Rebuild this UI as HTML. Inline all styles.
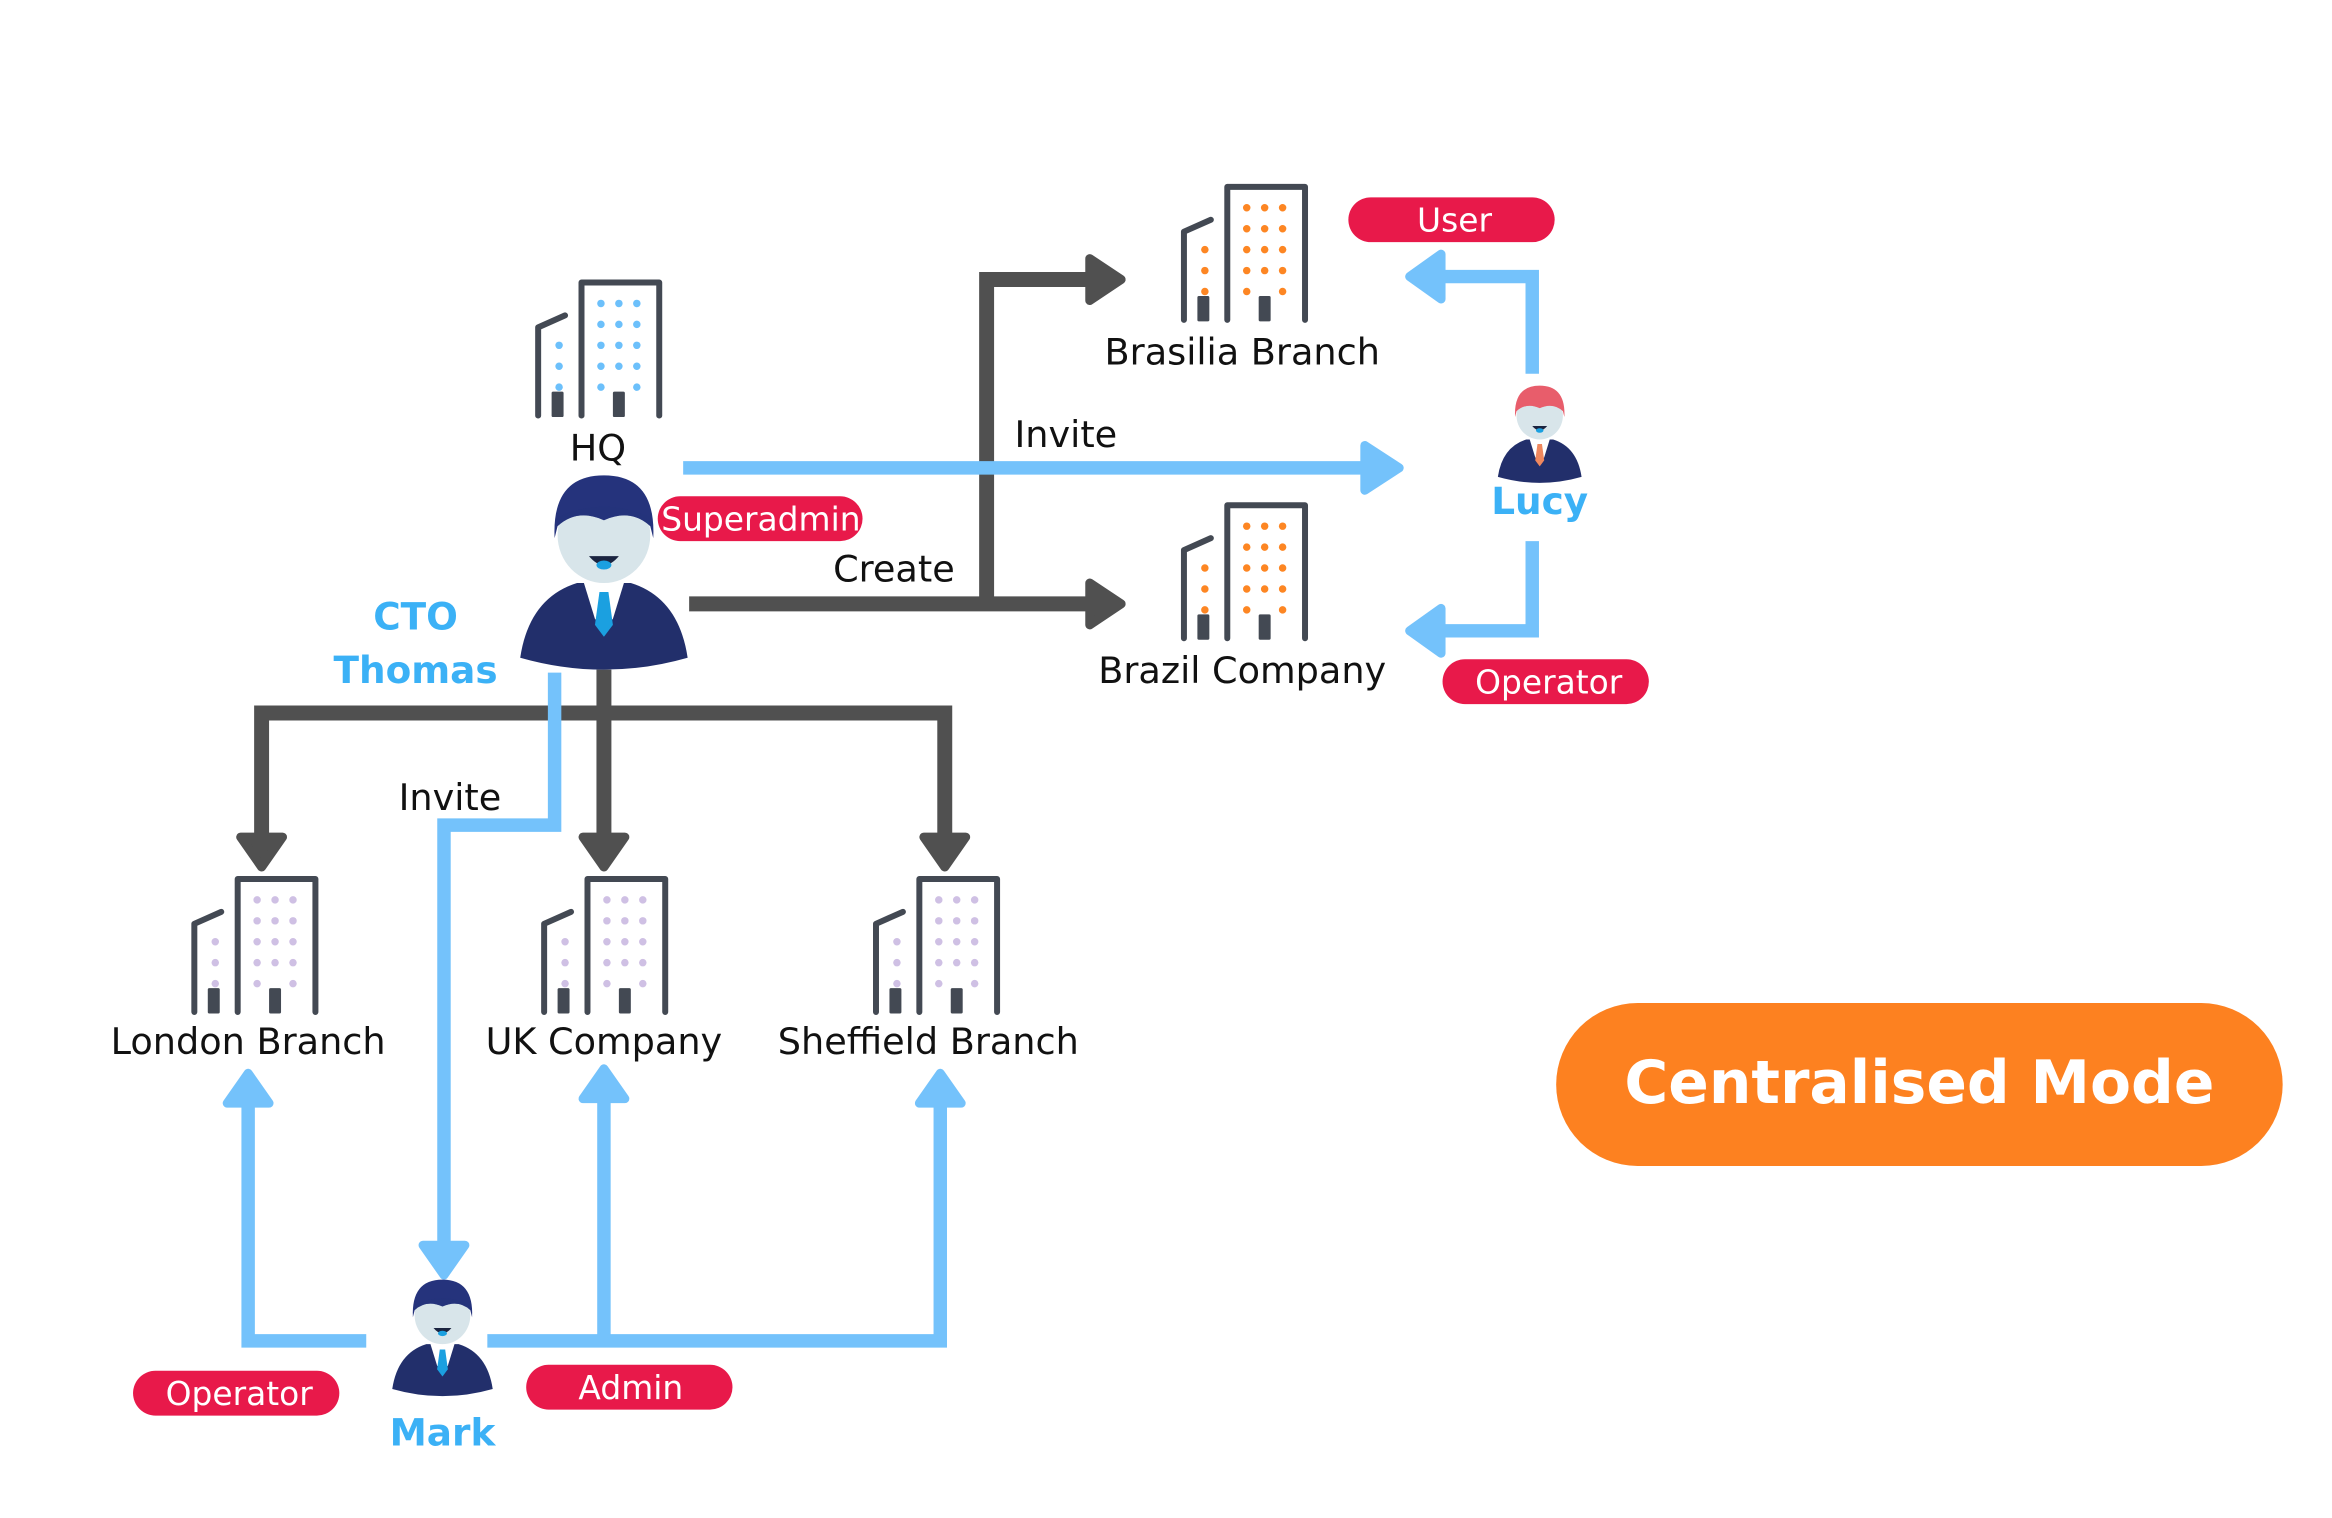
<!DOCTYPE html>
<html><head><meta charset="utf-8"><style>
html,body{margin:0;padding:0;background:#fff}
svg{display:block}
text{font-family:"DejaVu Sans","Liberation Sans",sans-serif}
</style></head><body>
<svg width="2332" height="1518" viewBox="0 0 1560 1015.5" preserveAspectRatio="none" xmlns="http://www.w3.org/2000/svg">
<defs>
<g id="bld">
 <path d="M3,92 V33 L21,25" fill="none" stroke="#434953" stroke-width="4" stroke-linecap="round" stroke-linejoin="round"/>
 <path d="M32,92 V3 H84 V92" fill="none" stroke="#434953" stroke-width="4" stroke-linecap="round" stroke-linejoin="round"/>
 <rect x="12" y="76" width="8" height="17" rx="1" fill="#434953"/>
 <rect x="53" y="76" width="8" height="17" rx="1" fill="#434953"/>
 <g fill="currentColor">
  <circle cx="45" cy="17" r="2.5"/><circle cx="57" cy="17" r="2.5"/><circle cx="69" cy="17" r="2.5"/>
  <circle cx="45" cy="31" r="2.5"/><circle cx="57" cy="31" r="2.5"/><circle cx="69" cy="31" r="2.5"/>
  <circle cx="45" cy="45" r="2.5"/><circle cx="57" cy="45" r="2.5"/><circle cx="69" cy="45" r="2.5"/>
  <circle cx="45" cy="59" r="2.5"/><circle cx="57" cy="59" r="2.5"/><circle cx="69" cy="59" r="2.5"/>
  <circle cx="45" cy="73" r="2.5"/><circle cx="69" cy="73" r="2.5"/>
  <circle cx="17" cy="45" r="2.5"/><circle cx="17" cy="59" r="2.5"/><circle cx="17" cy="73" r="2.5"/>
 </g>
</g>
<g id="man">
 <path d="M-56,122 Q-50,82 -18,72 L18,72 Q50,82 56,122 Q0,138 -56,122 Z" fill="#222f6b"/>
 <rect x="-11" y="56" width="22" height="18" fill="#c4d4dc"/>
 <polygon points="-14,70 14,70 6,96 0,102 -6,96" fill="#fff"/>
 <polygon points="-3,78 3,78 6,100 0,108 -6,100" fill="currentColor"/>
 <ellipse cx="0" cy="40" rx="31" ry="32" fill="#d8e5ea"/>
 <path d="M-33,42 Q-35,0 0,0 Q35,0 33,42 L31,34 Q18,22 0,30 Q-18,22 -31,34 Z" fill="var(--hair)"/>
 <path d="M-31,34 Q-18,22 0,30 Q18,22 31,34 L31,28 Q0,14 -31,28 Z" fill="var(--hair)" opacity="0.6"/>
 <path d="M-10,54 Q0,66 10,54 Z" fill="#1b2440"/>
 <ellipse cx="0" cy="60" rx="5" ry="3" fill="#1ba0e0"/>
</g>
</defs>

<g stroke="#505050" stroke-width="10" fill="none">
 <path d="M461,404 H732"/>
 <path d="M660,404 V187 H732"/>
 <path d="M404,448 V562"/>
 <path d="M175,562 V477 H632 V562"/>
</g>
<g fill="#505050" stroke="#505050" stroke-width="6" stroke-linejoin="round">
 <polygon points="729,390 750,404 729,418"/>
 <polygon points="729,173 750,187 729,201"/>
 <polygon points="161,560 189,560 175,580"/>
 <polygon points="390,560 418,560 404,580"/>
 <polygon points="618,560 646,560 632,580"/>
</g>

<g stroke="#74c2fb" stroke-width="9" fill="none">
 <path d="M457,313 H915"/>
 <path d="M1025,250 V185 H962"/>
 <path d="M1025,362 V422 H962"/>
 <path d="M371,450 V552 H297 V832"/>
 <path d="M245,897 H166 V738"/>
 <path d="M326,897 H629 V738"/>
 <path d="M404,897 V735"/>
</g>
<g fill="#74c2fb" stroke="#74c2fb" stroke-width="6" stroke-linejoin="round">
 <polygon points="913,298 936,313 913,328"/>
 <polygon points="964,170 943,185 964,200"/>
 <polygon points="964,407 943,422 964,437"/>
 <polygon points="283,833 311,833 297,853"/>
 <polygon points="152,738 180,738 166,718"/>
 <polygon points="390,735 418,735 404,715"/>
 <polygon points="615,738 643,738 629,718"/>
</g>

<use href="#bld" x="357" y="186" style="color:#6cc0fb"/>
<use href="#bld" x="789" y="122" style="color:#fd8623"/>
<use href="#bld" x="789" y="335" style="color:#fd8623"/>
<use href="#bld" x="127" y="585" style="color:#cfc0e4"/>
<use href="#bld" x="361" y="585" style="color:#cfc0e4"/>
<use href="#bld" x="583" y="585" style="color:#cfc0e4"/>

<use href="#man" transform="translate(404,318)" style="color:#1ba0e0;--hair:#25337c"/>
<use href="#man" transform="translate(296,856) scale(0.6)" style="color:#1ba0e0;--hair:#25337c"/>
<use href="#man" transform="translate(1030,258) scale(0.5)" style="color:#f0885e;--hair:#e85d6b"/>

<g font-size="24.5" fill="#111" text-anchor="middle">
 <text x="400" y="308">HQ</text>
 <text x="831" y="244">Brasilia Branch</text>
 <text x="831" y="457">Brazil Company</text>
 <text x="166" y="705">London Branch</text>
 <text x="404" y="705">UK Company</text>
 <text x="621" y="705">Sheffield Branch</text>
 <text x="713" y="299">Invite</text>
 <text x="598" y="389">Create</text>
 <text x="301" y="542">Invite</text>
</g>
<g font-size="25" fill="#3bb1f6" font-weight="bold" text-anchor="middle">
 <text x="278" y="421">CTO</text>
 <text x="278" y="457">Thomas</text>
 <text x="1030" y="344">Lucy</text>
 <text x="296" y="967">Mark</text>
</g>

<g fill="#e8194a">
 <rect x="440" y="332" width="137" height="30" rx="15"/>
 <rect x="902" y="132" width="138" height="30" rx="15"/>
 <rect x="965" y="441" width="138" height="30" rx="15"/>
 <rect x="89" y="917" width="138" height="30" rx="15"/>
 <rect x="352" y="913" width="138" height="30" rx="15"/>
</g>
<g font-size="22" fill="#fff" text-anchor="middle">
 <text x="509" y="355">Superadmin</text>
 <text x="973" y="155">User</text>
 <text x="1036" y="464">Operator</text>
 <text x="160" y="940">Operator</text>
 <text x="422" y="936">Admin</text>
</g>

<rect x="1041" y="671" width="486" height="109" rx="54.5" fill="#fd8120"/>
<text x="1284" y="738" font-size="40" font-weight="bold" fill="#fff" text-anchor="middle">Centralised Mode</text>
</svg>
</body></html>
